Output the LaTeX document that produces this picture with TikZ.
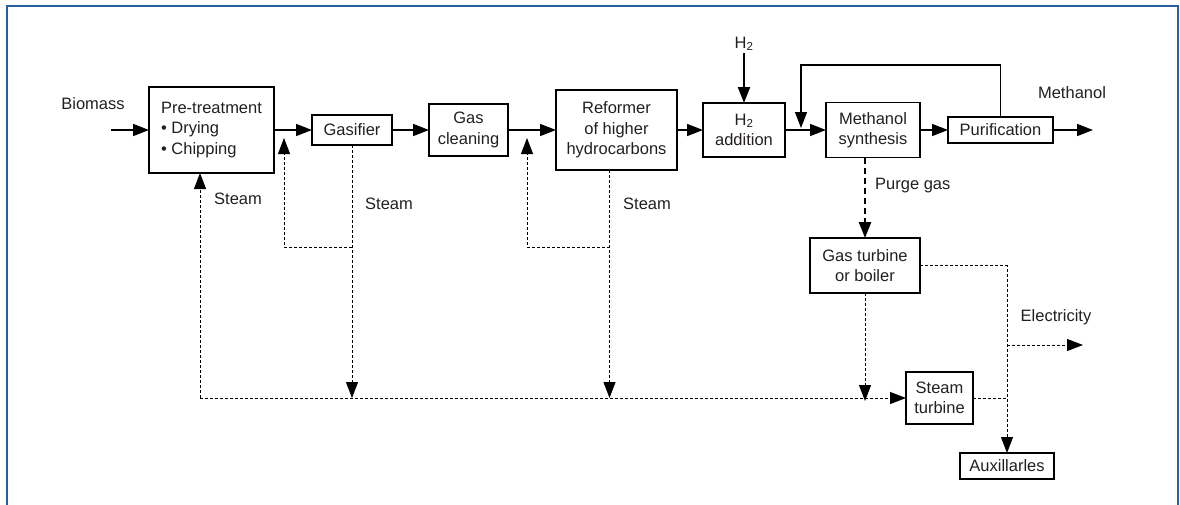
\documentclass[tikz,border=0pt]{standalone}
\usepackage{fontspec}
\setmainfont{Liberation Sans}
\usepackage{xcolor}
\usepackage{tikz}
\usetikzlibrary{arrows.meta,positioning,calc}
\definecolor{frameblue}{RGB}{40,95,160}
\definecolor{ink}{RGB}{35,31,32}

\begin{document}
\begin{tikzpicture}[x=1pt, y=-1pt, font=\fontsize{16.5}{20.5}\selectfont]
\tikzstyle{box}=[draw, line width=1.4pt, inner sep=3pt, outer sep=0pt, align=center, text=ink]
\tikzstyle{arr}=[-{Triangle[length=16pt,width=12pt]}, line width=1.6pt]
\tikzstyle{darr}=[-{Triangle[length=16pt,width=12pt]}, line width=1pt, dash pattern=on 3pt off 2pt]
\tikzstyle{dline}=[line width=1pt, dash pattern=on 3pt off 2pt]
\tikzstyle{parr}=[-{Triangle[length=16pt,width=12pt]}, line width=2.6pt, dash pattern=on 6pt off 4pt]
\tikzstyle{lbl}=[text=ink, inner sep=2pt]

\useasboundingbox (0,0) rectangle (1180,504);
\draw[frameblue, line width=1.5pt] (7,520) -- (7,6) -- (1178,6) -- (1178,520);

% main line
\node[box, minimum width=125pt, minimum height=86pt, align=left] (pre) at (211.5,130) {Pre-treatment\\ \textbullet\ Drying\\ \textbullet\ Chipping};
\node[box, right=38pt of pre, minimum width=80pt, minimum height=30pt] (gas) {Gasifier};
\node[box, right=37pt of gas, minimum width=79pt, minimum height=52pt] (clean) {Gas\\cleaning};
\node[box, right=48pt of clean, minimum width=121pt, minimum height=80pt] (ref) {Reformer\\of higher\\hydrocarbons};
\node[box, right=26pt of ref, minimum width=82pt, minimum height=54pt] (h2a) {H\textsubscript{2}\\addition};
\node[box, right=41pt of h2a, minimum width=94pt, minimum height=55pt] (msyn) {Methanol\\synthesis};
\node[box, right=28pt of msyn, minimum width=105pt, minimum height=26pt] (pur) {Purification};

% power side
\node[box, minimum width=110pt, minimum height=55pt] (gt) at (865,265.5) {Gas turbine\\or boiler};
\node[box, minimum width=67pt, minimum height=52pt] (st) at (939.5,398) {Steam\\turbine};
\node[box, minimum width=94pt, minimum height=26pt] (aux) at (1007,466) {Auxillarles};

\node[lbl] (bio) at (93,104) {Biomass};
\node[lbl, anchor=west] (stm1) at (212,199) {Steam};
\node[lbl, anchor=west] (stm2) at (363,204) {Steam};
\node[lbl, anchor=west] (stm3) at (621,204) {Steam};
\node[lbl, above=50pt of h2a] (h2) {H\textsubscript{2}};
\node[lbl] (meth) at (1072,93) {Methanol};
\node[lbl, anchor=west] (purge) at (873,186) {Purge gas};
\node[lbl] (elec) at (1056,317) {Electricity};

\coordinate (bin) at (111,130);
\coordinate (mout) at (1093,130);
\coordinate (rtop) at (801,65);
\coordinate (rec) at (801,128);
\coordinate (sh0) at (200,398);
\coordinate (br1) at (284,247);
\coordinate (j1) at (284,138);
\coordinate (rs) at ([xshift=-7pt]ref.south);
\coordinate (br2) at (527,247);
\coordinate (j2) at (527,138);
\coordinate (eout) at (1083,345);

\draw[arr] (bin) -- (pre);
\draw[arr] (pre) -- (gas);
\draw[arr] (gas) -- (clean);
\draw[arr] (clean) -- (ref);
\draw[arr] (ref) -- (h2a);
\draw[arr] (h2a) -- (msyn);
\draw[arr] (msyn) -- (pur);
\draw[arr] (pur) -- (mout);
\draw[arr, line width=2.2pt] (h2) -- (h2a);
\draw[arr, line width=1.2pt] (pur.north) |- (rtop) -- (rec);

% steam and power
\draw[darr] (sh0) -- (st);
\draw[darr] (sh0) -- (sh0 |- pre.south);
\draw[darr] (gas) -- (gas |- sh0);
\draw[darr] (gas |- br1) -| (j1);
\draw[darr] (rs) -- (rs |- sh0);
\draw[darr] (rs |- br2) -| (j2);
\draw[parr] (gt.north |- msyn.south) -- (gt);
\draw[darr] (gt) -- ([yshift=-3pt]gt |- sh0);
\draw[darr] (gt.east) -| (aux);
\draw[dline] (st) -- (st -| aux);
\draw[darr] (eout -| aux) -- (eout);

\end{tikzpicture}
\end{document}
